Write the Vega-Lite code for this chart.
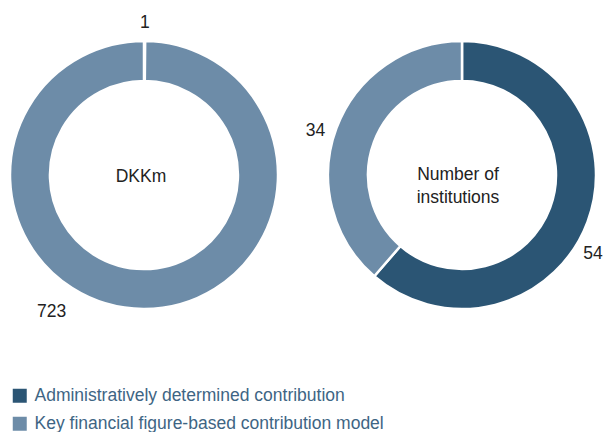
{
  "$schema": "https://vega.github.io/schema/vega-lite/v6.json",
  "padding": 0,
  "spacing": 17,
  "background": "white",
  "config": {
    "view": {"stroke": null},
    "font": "Liberation Sans",
    "legend": {
      "orient": "none",
      "legendX": 11,
      "legendY": 387,
      "title": null,
      "symbolType": "square",
      "symbolSize": 196,
      "symbolStrokeWidth": 0,
      "labelFontSize": 17.5,
      "labelColor": "#3e6584",
      "labelFont": "Liberation Sans",
      "rowPadding": 9,
      "labelOffset": 6,
      "labelLimit": 500
    }
  },
  "datasets": {
    "dkkm": [
      {"category": "Administratively determined contribution", "value": 1},
      {"category": "Key financial figure-based contribution model", "value": 723}
    ],
    "inst": [
      {"category": "Administratively determined contribution", "value": 54},
      {"category": "Key financial figure-based contribution model", "value": 34}
    ]
  },
  "hconcat": [
    {
      "width": 288,
      "height": 350,
      "data": {"name": "dkkm"},
      "layer": [
        {
          "mark": {"type": "arc", "innerRadius": 94, "outerRadius": 134, "stroke": "white", "strokeWidth": 2.5},
          "encoding": {
            "theta": {"field": "value", "type": "quantitative", "stack": true},
            "order": {"field": "category", "sort": "ascending"},
            "color": {
              "field": "category",
              "type": "nominal",
              "scale": {
                "domain": ["Administratively determined contribution", "Key financial figure-based contribution model"],
                "range": ["#2b5574", "#6d8ca8"]
              }
            }
          }
        },
        {
          "mark": {"type": "text", "fontSize": 17.5, "fill": "#222222", "baseline": "middle", "align": "center"},
          "encoding": {
            "theta": {"field": "value", "type": "quantitative", "stack": true, "scale": {"domain": [0, 724], "range": [0, 7.46]}},
            "radius": {"field": "value", "type": "quantitative", "scale": {"type": "linear", "zero": false, "domain": [1, 723], "range": [152, 165]}},
            "order": {"field": "category", "sort": "ascending"},
            "detail": {"field": "category"},
            "text": {"field": "value", "type": "quantitative"}
          }
        },
        {
          "data": {"values": [{"label": "DKKm"}]},
          "mark": {"type": "text", "fontSize": 17.5, "fill": "#222222", "baseline": "middle", "align": "center", "dx": -3, "dy": 2},
          "encoding": {"text": {"field": "label"}}
        }
      ],
      "resolve": {"scale": {"theta": "independent", "radius": "independent"}}
    },
    {
      "width": 284,
      "height": 350,
      "data": {"name": "inst"},
      "layer": [
        {
          "mark": {"type": "arc", "innerRadius": 94, "outerRadius": 134, "stroke": "white", "strokeWidth": 2.5},
          "encoding": {
            "theta": {"field": "value", "type": "quantitative", "stack": true},
            "order": {"field": "category", "sort": "ascending"},
            "color": {
              "field": "category",
              "type": "nominal",
              "scale": {
                "domain": ["Administratively determined contribution", "Key financial figure-based contribution model"],
                "range": ["#2b5574", "#6d8ca8"]
              }
            }
          }
        },
        {
          "mark": {"type": "text", "radius": 153, "fontSize": 17.5, "fill": "#222222", "baseline": "middle", "align": "center"},
          "encoding": {
            "theta": {"field": "value", "type": "quantitative", "stack": true, "scale": {"domain": [0, 88], "range": [0.34, 6.12]}},
            "order": {"field": "category", "sort": "ascending"},
            "detail": {"field": "category"},
            "text": {"field": "value", "type": "quantitative"}
          }
        },
        {
          "data": {"values": [{"label": ["Number of", "institutions"]}]},
          "mark": {"type": "text", "fontSize": 17.5, "fill": "#222222", "baseline": "middle", "align": "center", "lineHeight": 23, "dx": -4},
          "encoding": {"text": {"field": "label"}}
        }
      ],
      "resolve": {"scale": {"theta": "independent"}}
    }
  ]
}
